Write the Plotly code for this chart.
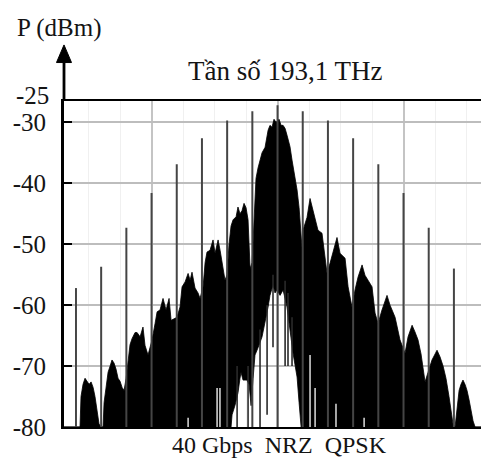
import plotly.graph_objects as go

# ---------------- data (frequency offset in GHz, power in dBm) ----------------
# upper envelope of the optical spectrum
env_f = [-169.5, -156.8, -156.0, -154.4, -152.8, -151.2, -149.6, -148.0, -146.4, -144.9,
         -143.3, -141.7, -140.1, -138.5, -137.7, -136.1, -134.5, -132.9, -131.4, -129.8,
         -128.2, -126.6, -125.0, -123.4, -121.8, -120.2, -118.7, -117.1, -115.5, -113.1,
         -111.5, -109.1, -106.8, -105.2, -102.8, -101.2, -99.6, -97.2, -95.6, -93.3,
         -90.9, -88.5, -86.1, -84.5, -82.1, -79.8, -77.4, -75.8, -73.4, -71.0,
         -69.4, -67.9, -65.5, -63.1, -61.5, -59.1, -57.5, -56.0, -53.6, -51.2,
         -49.6, -47.2, -45.6, -44.1, -41.7, -40.1, -38.5, -36.9, -35.3, -32.9,
         -31.4, -29.8, -28.2, -26.6, -25.0, -23.4, -21.8, -20.2, -18.7, -17.1,
         -15.5, -13.9, -12.3, -9.9, -7.5, -6.0, -4.4, -2.8, -1.2, 1.2,
         2.8, 4.4, 6.0, 7.5, 9.9, 11.5, 13.9, 15.5, 17.1, 17.9,
         19.4, 20.2, 21.8, 23.4, 25.8, 28.2, 29.8, 32.1, 35.3, 36.9,
         39.3, 41.7, 44.1, 47.2, 49.6, 53.6, 56.0, 59.1, 61.5, 63.9,
         67.1, 69.4, 71.8, 75.0, 77.4, 79.8, 82.9, 86.9, 89.3, 93.3,
         97.2, 99.6, 101.2, 103.6, 106.8, 109.1, 111.5, 113.9, 117.1, 119.5,
         122.6, 126.6, 129.0, 131.4, 133.7, 136.1, 137.7, 139.3, 140.9, 142.5,
         144.1, 145.6, 147.2, 148.8, 150.4, 152.0, 153.6, 155.2, 156.8, 161.5]
env_p = [-80, -80, -75, -73, -72, -72.5, -73, -72.6, -73.5, -75,
         -77, -79.5, -80, -80, -76, -73, -71, -70, -69, -69.5,
         -70.5, -72, -72.5, -73.5, -74, -72, -69, -66.5, -65.5, -64.5,
         -64.5, -65.2, -63.6, -66.6, -68.2, -67, -65.7, -63, -61.1, -60.8,
         -58.9, -60.8, -58.9, -62.5, -62.3, -62, -60.3, -57, -56.2, -54.8,
         -55.9, -54.6, -57.2, -58, -58.9, -57, -53, -51.3, -51, -49.3,
         -51.5, -49.3, -51, -53.1, -55.9, -55, -50, -47, -46, -45.5,
         -43.9, -45, -44.5, -43.3, -44, -46, -54, -53, -46, -39.2,
         -37.5, -36.2, -35, -34.1, -31.3, -30.5, -30.8, -29.5, -30, -29.5,
         -30.5, -30.5, -31, -32.1, -34, -36.2, -39, -41.1, -44, -46,
         -50.5, -47.7, -46.5, -45.6, -42.5, -44.4, -45.6, -47.7, -48.2, -50.5,
         -54.8, -53.1, -51.3, -48.9, -51.5, -52.3, -57, -60.3, -57.5, -55.4,
         -53.4, -55.1, -55.9, -57, -61.3, -63, -60.8, -58.4, -60, -62,
         -65.7, -66.9, -67.9, -65.2, -63.3, -64.4, -65.7, -68, -72.6, -71,
         -69, -67.4, -68.5, -70, -72, -75, -77.5, -79.5, -80, -77,
         -74, -73, -72.3, -73, -74, -75.5, -77.5, -79, -80, -80]

# lower edge of the dark area (white notch under the carrier)
hole_f = [-36.9, -36.1, -33.7, -31.4, -29.8, -29.0, -27.4, -24.2, -22.6, -21.0,
          -19.4, -17.9, -15.5, -12.3, -9.9, -7.5, -6.0, -3.6, -2.0, -0.4,
          2.0, 4.4, 7.5, 9.9, 12.3, 15.5, 17.1, 18.7]
hole_p = [-80, -78, -76.4, -74.4, -72, -71, -72.3, -72.3, -73, -76.5,
          -72, -68.2, -67, -65.2, -62.5, -60.3, -58.4, -56.7, -58, -57.5,
          -58.4, -57.5, -60.3, -64.1, -67.9, -71.8, -76, -80]

# discrete spectral lines (tones)
tone_f = [-160, -140, -120, -100, -80, -60, -40, -20, 0, 20, 40, 60, 80, 100, 120, 140]
tone_p = [-57.2, -53.7, -47.3, -41.6, -36.9, -32.6, -29.7, -28.2, -27.2,
          -28.2, -29.7, -32.6, -36.9, -41.6, -47.3, -54.0]

# dark noise spikes inside the white notch
spike_f = [-32.1, -23.4, -13.9, -8.3, -3.6, 6.0, 8.3, 11.5]
spike_top = [-70, -70, -64, -60, -55, -56, -58, -62]
spike_bot = [-80, -80, -80, -78, -66.9, -70, -70, -70]

# thin bright gaps inside the dark area
gap_f = [-71.0, -48.0, -45.7, 25.8, 29.8, 46.4, 68.7]
gap_top = [-78.5, -73.6, -73.6, -68.2, -73.6, -76.2, -78.5]
gap_bot = [-80, -80, -80, -80, -80, -80, -80]

y_ticks = [-30, -40, -50, -60, -70, -80]
y_top_label = "-25"

X_RANGE = [-169.5, 161.5]
Y_RANGE = [-80, -26.5]

FONT = "Liberation Serif, Times New Roman, DejaVu Serif, serif"
TXT = "#141414"

# ---------------- build ----------------
low_f = [X_RANGE[0]] + hole_f + [X_RANGE[1]]
low_p = [-80] + hole_p + [-80]
poly_f = env_f + low_f[::-1]
poly_p = env_p + low_p[::-1]

fig = go.Figure()

fig.add_trace(go.Scatter(x=poly_f, y=poly_p, mode="lines", fill="toself",
                         fillcolor="black", line=dict(color="black", width=0.8),
                         hoverinfo="skip", showlegend=False))


def segs(xs, tops, bots):
    X, Y = [], []
    for x, t, b in zip(xs, tops, bots):
        X += [x, x, None]
        Y += [b, t, None]
    return X, Y


gx, gy = segs(gap_f, gap_top, gap_bot)
fig.add_trace(go.Scatter(x=gx, y=gy, mode="lines", line=dict(color="white", width=1.3),
                         hoverinfo="skip", showlegend=False))

sx, sy = segs(spike_f, spike_top, spike_bot)
fig.add_trace(go.Scatter(x=sx, y=sy, mode="lines", line=dict(color="#2a2a2a", width=1.6),
                         hoverinfo="skip", showlegend=False))

tx, ty = segs(tone_f, tone_p, [-80] * len(tone_f))
fig.add_trace(go.Scatter(x=tx, y=ty, mode="lines", line=dict(color="#454545", width=2),
                         hoverinfo="skip", showlegend=False))

# axis arrow above the plot
fig.add_shape(type="line", xref="paper", yref="paper", x0=0, x1=0, y0=1, y1=1.125,
              line=dict(color="black", width=2.8))
fig.add_shape(type="path", xref="paper", yref="paper",
              path="M -0.018 1.118 L 0.018 1.118 L 0 1.172 Z",
              fillcolor="black", line=dict(color="black", width=1))

fig.add_annotation(text="P (dBm)", xref="paper", yref="paper", x=-0.117, y=1.224,
                   xanchor="left", yanchor="middle", showarrow=False,
                   font=dict(family=FONT, size=25, color=TXT))
fig.add_annotation(text=y_top_label, xref="paper", yref="paper", x=-0.032, y=1.018,
                   xanchor="right", yanchor="middle", showarrow=False,
                   font=dict(family=FONT, size=25, color=TXT))
fig.add_annotation(text="Tần số 193,1 THz", xref="paper", yref="paper", x=0.53, y=1.093,
                   xanchor="center", yanchor="middle", showarrow=False,
                   font=dict(family=FONT, size=27, color=TXT))
fig.add_annotation(text="40 Gbps\u00a0\u00a0NRZ\u00a0\u00a0QPSK", xref="paper", yref="paper",
                   x=0.516, y=-0.101, xanchor="center", yanchor="bottom", showarrow=False,
                   font=dict(family=FONT, size=24, color=TXT))

fig.update_xaxes(range=X_RANGE, showticklabels=False, ticks="",
                 tickvals=[-100, 0, 100], showgrid=True, gridcolor="#c4c4c4", gridwidth=1.5,
                 minor=dict(dtick=25, tick0=0, showgrid=True, gridcolor="#f0f0f0", gridwidth=1),
                 showline=True, mirror=True, linecolor="black", linewidth=2.2,
                 zeroline=False, fixedrange=True)
fig.update_yaxes(range=Y_RANGE, tickvals=y_ticks, ticktext=[str(v) for v in y_ticks],
                 showgrid=True, gridcolor="#bdbdbd", gridwidth=1.5,
                 ticks="inside", ticklen=8, tickwidth=2, tickcolor="black",
                 ticklabelstandoff=10,
                 tickfont=dict(family=FONT, size=25, color=TXT),
                 showline=True, linecolor="black", linewidth=2.8,
                 zeroline=False, fixedrange=True)

fig.update_layout(width=481, height=461, margin=dict(l=64, r=0, t=101, b=34),
                  plot_bgcolor="white", paper_bgcolor="white", showlegend=False)

fig.write_html("out.html", config={"displayModeBar": False},
               post_script="document.body.style.margin='0px';"
                           "document.body.style.overflow='hidden';")
